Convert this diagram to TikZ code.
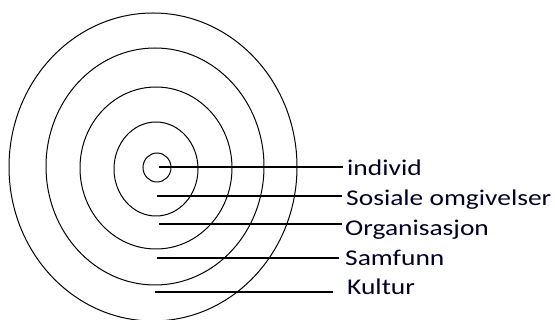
\documentclass[tikz,border=0pt]{standalone}
\usepackage{fontspec}
\setmainfont{Carlito}
\begin{document}
\begin{tikzpicture}[x=1pt,y=-1pt,
  ring/.style={draw=black,line width=1pt},
  lead/.style={draw=black,line width=1.1pt},
  lbl/.style={anchor=base west,inner sep=0pt,text=black!85!blue,font=\fontsize{22.5}{25}\selectfont}]
\useasboundingbox[fill=white] (0,0) rectangle (555,320);
\draw[ring] (153,167) ellipse [x radius=144,y radius=154];
\draw[ring] (155,166.5) ellipse [x radius=109,y radius=118.5];
\draw[ring] (156,168) ellipse [x radius=76,y radius=81];
\draw[ring] (156,169) ellipse [x radius=42,y radius=47];
\draw[ring] (157,167.5) ellipse [x radius=14,y radius=14.5];
\node[lbl] (t1) at (347,176) {\scalebox{1.22}[1]{individ}};
\node[lbl] (t2) at (346,205.5) {\scalebox{1.22}[1]{Sosiale omgivelser}};
\node[lbl] (t3) at (345,235.5) {\scalebox{1.22}[1]{Organisasjon}};
\node[lbl] (t4) at (345,265.5) {\scalebox{1.22}[1]{Samfunn}};
\node[lbl] (t5) at (347,295) {\scalebox{1.22}[1]{Kultur}};
\coordinate (s1) at (159,167);
\coordinate (s2) at (157,196);
\coordinate (s3) at (159,224);
\coordinate (s4) at (157,258);
\coordinate (s5) at (155,292);
\coordinate (e1) at (343,167);
\coordinate (e2) at (342,196);
\coordinate (e3) at (342,224);
\coordinate (e4) at (339,258);
\coordinate (e5) at (333,292);
\foreach \i in {1,...,5} \draw[lead] (s\i) -- (e\i);
\end{tikzpicture}
\end{document}
